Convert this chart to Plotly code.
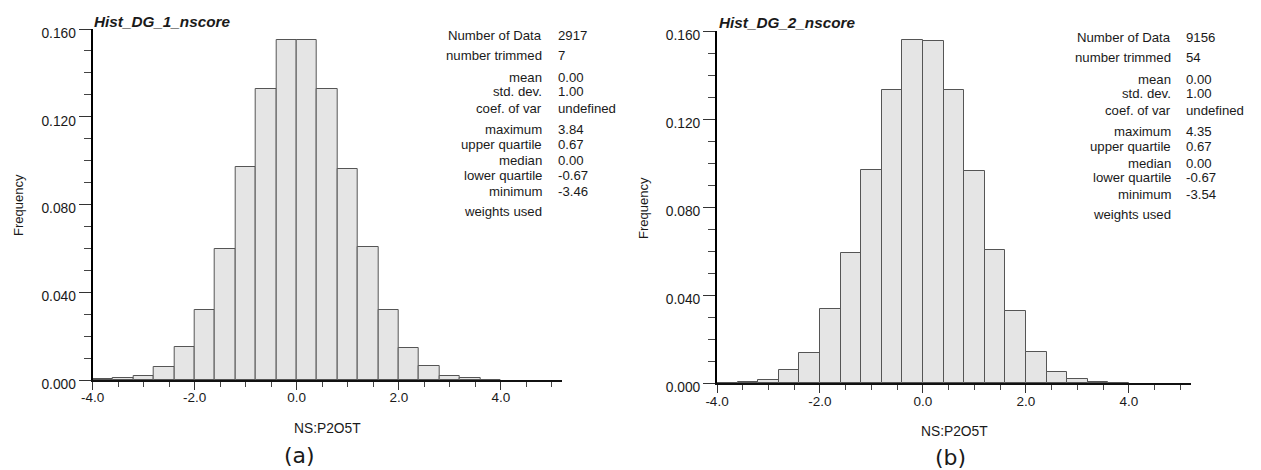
import plotly.graph_objects as go

# ---------------- data ----------------
bin_lefts = [-4.0, -3.6, -3.2, -2.8, -2.4, -2.0, -1.6, -1.2, -0.8, -0.4,
             0.0, 0.4, 0.8, 1.2, 1.6, 2.0, 2.4, 2.8, 3.2, 3.6]
bin_width = 0.4

freq_a = [0.0003, 0.0008, 0.0020, 0.0058, 0.0152, 0.0319, 0.0598, 0.0972, 0.1328, 0.1551,
          0.1551, 0.1325, 0.0962, 0.0608, 0.0319, 0.0147, 0.0062, 0.0018, 0.0008, 0.0002]
freq_b = [0.0003, 0.0007, 0.0014, 0.0062, 0.0138, 0.0338, 0.0594, 0.0971, 0.1333, 0.1557,
          0.1553, 0.1332, 0.0963, 0.0607, 0.0330, 0.0144, 0.0050, 0.0018, 0.0007, 0.0002]

title_a = "Hist_DG_1_nscore"
title_b = "Hist_DG_2_nscore"
x_title = "NS:P2O5T"
y_title = "Frequency"
panel_a = "(a)"
panel_b = "(b)"

stats_labels = ["Number of Data", "number trimmed", "mean", "std. dev.", "coef. of var",
                "maximum", "upper quartile", "median", "lower quartile", "minimum", "weights used"]
stats_a = ["2917", "7", "0.00", "1.00", "undefined", "3.84", "0.67", "0.00", "-0.67", "-3.46", ""]
stats_b = ["9156", "54", "0.00", "1.00", "undefined", "4.35", "0.67", "0.00", "-0.67", "-3.54", ""]

x_tick_vals = [-4.0, -2.0, 0.0, 2.0, 4.0]
x_tick_text = ["-4.0", "-2.0", "0.0", "2.0", "4.0"]
y_tick_vals = [0.0, 0.04, 0.08, 0.12, 0.16]
y_tick_text = ["0.000", "0.040", "0.080", "0.120", "0.160"]

# ---------------- layout helpers ----------------
W, H = 1261, 470
def px(x):
    return x / W
def py(y):
    return 1 - y / H

FONT = "Liberation Sans, Arial, sans-serif"
TXT = "#1a1a1a"

fig = go.Figure()
for freq, xa, ya in [(freq_a, "x", "y"), (freq_b, "x2", "y2")]:
    fig.add_trace(go.Bar(
        x=bin_lefts, y=freq, width=bin_width, offset=0,
        marker=dict(color="#e5e5e5", line=dict(color="#555555", width=1)),
        xaxis=xa, yaxis=ya, showlegend=False, hoverinfo="skip"))

def xaxis_cfg(domain, anchor):
    return dict(domain=domain, range=[-4.0, 5.2], showgrid=False, zeroline=False,
                automargin=False, anchor=anchor,
                showline=True, linecolor="#111", linewidth=2,
                tickmode="array", tickvals=x_tick_vals, ticktext=x_tick_text,
                ticks="outside", ticklen=8, tickwidth=1, tickcolor="#333",
                ticklabelstandoff=-4,
                tickfont=dict(family=FONT, size=13.5, color=TXT),
                minor=dict(tickmode="linear", tick0=-4.0, dtick=0.5, ticks="outside",
                           ticklen=5, tickwidth=1, tickcolor="#444"),
                fixedrange=True)

def yaxis_cfg(domain, anchor):
    return dict(domain=domain, range=[0, 0.16], showgrid=False, zeroline=False,
                automargin=False, anchor=anchor,
                showline=True, linecolor="#000", linewidth=2,
                tickmode="array", tickvals=y_tick_vals, ticktext=y_tick_text,
                ticks="outside", ticklen=12, tickwidth=1, tickcolor="#333",
                ticklabelshift=4,
                tickfont=dict(family=FONT, size=13.8, color=TXT),
                minor=dict(tickmode="linear", tick0=0, dtick=0.01, ticks="outside",
                           ticklen=7, tickwidth=1, tickcolor="#444"),
                fixedrange=True)

fig.update_layout(
    width=W, height=H, margin=dict(l=0, r=0, t=0, b=0, autoexpand=False),
    paper_bgcolor="white", plot_bgcolor="white",
    xaxis=xaxis_cfg([px(92.7), px(562)], "y"),
    yaxis=yaxis_cfg([py(380), py(29)], "x"),
    xaxis2=xaxis_cfg([px(717), px(1190.7)], "y2"),
    yaxis2=yaxis_cfg([py(383.3), py(31)], "x2"),
    bargap=0,
)

ann = []
def text(x, y, s, size=13, xanchor="center", bold=False, italic=False, angle=0, family=FONT):
    if bold:
        s = "<b>" + s + "</b>"
    if italic:
        s = "<i>" + s + "</i>"
    ann.append(dict(xref="paper", yref="paper", x=px(x), y=py(y), text=s,
                    showarrow=False, xanchor=xanchor, yanchor="middle",
                    textangle=angle, font=dict(family=family, size=size, color=TXT)))

# titles
text(92, 21, title_a, size=15.3, xanchor="left", bold=True, italic=True)
text(717, 22.3, title_b, size=15.3, xanchor="left", bold=True, italic=True)

# axis titles
text(18, 205, y_title, size=13, angle=-90)
text(643, 208, y_title, size=13, angle=-90)
text(327, 428, x_title, size=13.8)
text(954, 431.7, x_title, size=13.8)

# panel labels
text(299, 455, panel_a, size=22, family="DejaVu Sans, Verdana, sans-serif")
text(950, 457, panel_b, size=22, family="DejaVu Sans, Verdana, sans-serif")

# statistics blocks
rows_y = [35, 55.7, 77.3, 91.7, 108.3, 129, 144, 160.7, 175, 191.7, 211.7]
for lab_x, val_x, dy, vals in [(544, 555.7, 0, stats_a), (1173.3, 1184.3, 2.3, stats_b)]:
    for lab, val, ry in zip(stats_labels, vals, rows_y):
        text(lab_x, ry + dy, lab, size=13.2, xanchor="right")
        if val:
            text(val_x, ry + dy, val, size=13.2, xanchor="left")

fig.update_layout(annotations=ann)
fig.write_html("out.html")
